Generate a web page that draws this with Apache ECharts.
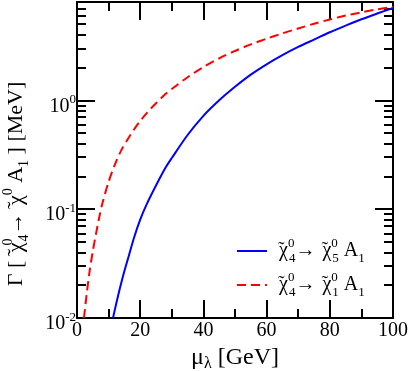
<!DOCTYPE html>
<html>
<head>
<meta charset="utf-8">
<script src="https://cdn.jsdelivr.net/npm/echarts@6/dist/echarts.min.js"></script>
<style>html,body{margin:0;padding:0;background:#fff}#c{width:412px;height:371px}</style>
</head>
<body>
<div id="c"></div>
<script>
const muBlue = [11.4, 12, 13, 14, 15, 16, 18, 20, 22, 25, 28, 30, 35, 40, 45, 50, 55, 60, 65, 70, 75, 80, 85, 90, 95, 100];
const gammaBlue = [0.01, 0.012, 0.016, 0.021, 0.027, 0.034, 0.054, 0.08, 0.11, 0.165, 0.24, 0.295, 0.48, 0.72, 1.0, 1.33, 1.72, 2.14, 2.6, 3.09, 3.61, 4.22, 4.85, 5.55, 6.27, 7.05];
const muRed = [2.2, 3, 4, 5, 6, 7, 8, 10, 12, 14, 16, 18, 20, 22, 25, 28, 30, 35, 40, 45, 50, 55, 60, 65, 70, 75, 80, 85, 90, 95, 100];
const gammaRed = [0.01, 0.016, 0.027, 0.041, 0.059, 0.083, 0.112, 0.178, 0.257, 0.347, 0.436, 0.537, 0.645, 0.759, 0.938, 1.14, 1.27, 1.63, 2.02, 2.43, 2.84, 3.26, 3.68, 4.12, 4.57, 5.05, 5.53, 6.0, 6.43, 6.84, 7.24];
const yMajor = [0.01, 0.1, 1];
const yMinor = [0.02,0.03,0.04,0.05,0.06,0.07,0.08,0.09,0.2,0.3,0.4,0.5,0.6,0.7,0.8,0.9,2,3,4,5,6,7,8];
const yExp = {0.01: '-2', 0.1: '-1', 1: '0'};
const seriesNames = ['blue', 'red'];

const FONT = "'Liberation Serif','Times New Roman',serif";
const chart = echarts.init(document.getElementById('c'), null, {renderer: 'canvas'});

function richSet(big, small, lh) {
  return {
    g: {fontFamily: FONT, fontSize: big, lineHeight: lh, color: '#000'},
    tw: {fontFamily: FONT, fontSize: big, lineHeight: lh, width: 1, align: 'left', padding: [0, 0, 0, 2], color: '#000'},
    sp: {fontFamily: FONT, fontSize: small, lineHeight: small, verticalAlign: 'top', color: '#000'},
    spw: {fontFamily: FONT, fontSize: small, lineHeight: small, verticalAlign: 'top', width: 1, align: 'left', color: '#000'},
    sb: {fontFamily: FONT, fontSize: small, lineHeight: small, verticalAlign: 'bottom', color: '#000'}
  };
}
const richBase = richSet(22, 14, 30);
const richLeg = richSet(20, 13, 28);
const CHI = '{tw|˜}{g|χ}';
const ARROW = '{g|→\u2009}';
const legendText = {
  blue: CHI + '{spw|0}{sb|4}' + ARROW + CHI + '{spw|0}{sb|5}{g| A}{sb|1}',
  red: CHI + '{spw|0}{sb|4}' + ARROW + CHI + '{spw|0}{sb|1}{g| A}{sb|1}'
};
const yName = '{g|Γ [ }' + CHI + '{spw|0}{sb|4}' + ARROW + CHI + '{sp|0}{g| A}{sb|1}{g| ] [MeV]}';

const axisLine = {show: true, lineStyle: {color: '#000', width: 2}};
const tickStyle = {color: '#000', width: 2};

const xBase = {
  type: 'value', min: 0, max: 100, interval: 20,
  axisLine: axisLine,
  axisTick: {show: true, inside: true, length: 18, lineStyle: tickStyle},
  minorTick: {show: true, splitNumber: 2, length: 9, lineStyle: tickStyle},
  splitLine: {show: false}
};
const yBase = {
  type: 'log', logBase: 10, min: 0.01, max: 8,
  splitLine: {show: false}, minorSplitLine: {show: false}
};

const option = {
  animation: false,
  backgroundColor: '#fff',
  grid: {left: 77, right: 19, top: 2, bottom: 53, containLabel: false, outerBoundsMode: 'none'},
  legend: {
    orient: 'vertical', left: 231, top: 232, itemWidth: 30, itemHeight: 14, itemGap: 6,
    itemStyle: {opacity: 0},
    data: seriesNames,
    formatter: n => legendText[n],
    textStyle: {fontFamily: FONT, fontSize: 20, color: '#000', rich: richLeg, padding: [0, 0, 0, 4]}
  },
  xAxis: [
    Object.assign({}, xBase, {
      position: 'bottom',
      axisLabel: {show: true, margin: 3, fontFamily: FONT, fontSize: 20, color: '#000'},
      name: '{g|μ}{l|λ}{g| [GeV]}', nameLocation: 'middle', nameGap: 24,
      nameTextStyle: {fontFamily: FONT, fontSize: 24, color: '#000', rich: {
        g: {fontFamily: FONT, fontSize: 24, lineHeight: 28, color: '#000'},
        l: {fontFamily: FONT, fontSize: 16, lineHeight: 16, verticalAlign: 'bottom', color: '#000'}
      }}
    }),
    Object.assign({}, xBase, {position: 'top', axisLabel: {show: false}})
  ],
  yAxis: [
    Object.assign({}, yBase, {
      position: 'left',
      axisLine: axisLine,
      axisTick: {show: true, inside: true, length: 18, lineStyle: tickStyle, customValues: yMajor},
      axisLabel: {show: true, margin: 1, customValues: yMajor, padding: [12, 0, 0, 0],
        formatter: v => '{b|10}{s|' + (yExp[v] || '') + '}',
        rich: {
          b: {fontFamily: FONT, fontSize: 20, lineHeight: 26, color: '#000'},
          s: {fontFamily: FONT, fontSize: 13, lineHeight: 13, verticalAlign: 'top', color: '#000'}
        }},
      name: yName, nameLocation: 'middle', nameRotate: 90, nameGap: 46,
      nameTextStyle: {fontFamily: FONT, fontSize: 22, color: '#000', rich: richBase, padding: [0, 48, 0, 0]}
    }),
    Object.assign({}, yBase, {
      position: 'left',
      axisLine: {show: false},
      axisTick: {show: true, inside: true, length: 9, lineStyle: tickStyle, customValues: yMinor},
      axisLabel: {show: false}
    }),
    Object.assign({}, yBase, {
      position: 'right',
      axisLine: axisLine,
      axisTick: {show: true, inside: true, length: 18, lineStyle: tickStyle, customValues: yMajor},
      axisLabel: {show: false}
    }),
    Object.assign({}, yBase, {
      position: 'right',
      axisLine: {show: false},
      axisTick: {show: true, inside: true, length: 9, lineStyle: tickStyle, customValues: yMinor},
      axisLabel: {show: false}
    })
  ],
  series: [
    {
      name: 'blue', type: 'line', xAxisIndex: 0, yAxisIndex: 0,
      data: muBlue.map((m, i) => [m, gammaBlue[i]]),
      smooth: 0.3, symbol: 'none', showSymbol: false,
      lineStyle: {color: '#0000ff', width: 2}, itemStyle: {color: '#0000ff'}
    },
    {
      name: 'red', type: 'line', xAxisIndex: 0, yAxisIndex: 0,
      data: muRed.map((m, i) => [m, gammaRed[i]]),
      smooth: 0.3, symbol: 'none', showSymbol: false,
      lineStyle: {color: '#ff0000', width: 2, type: [9, 5]}, itemStyle: {color: '#ff0000'}
    }
  ]
};
chart.setOption(option);
</script>
</body>
</html>
